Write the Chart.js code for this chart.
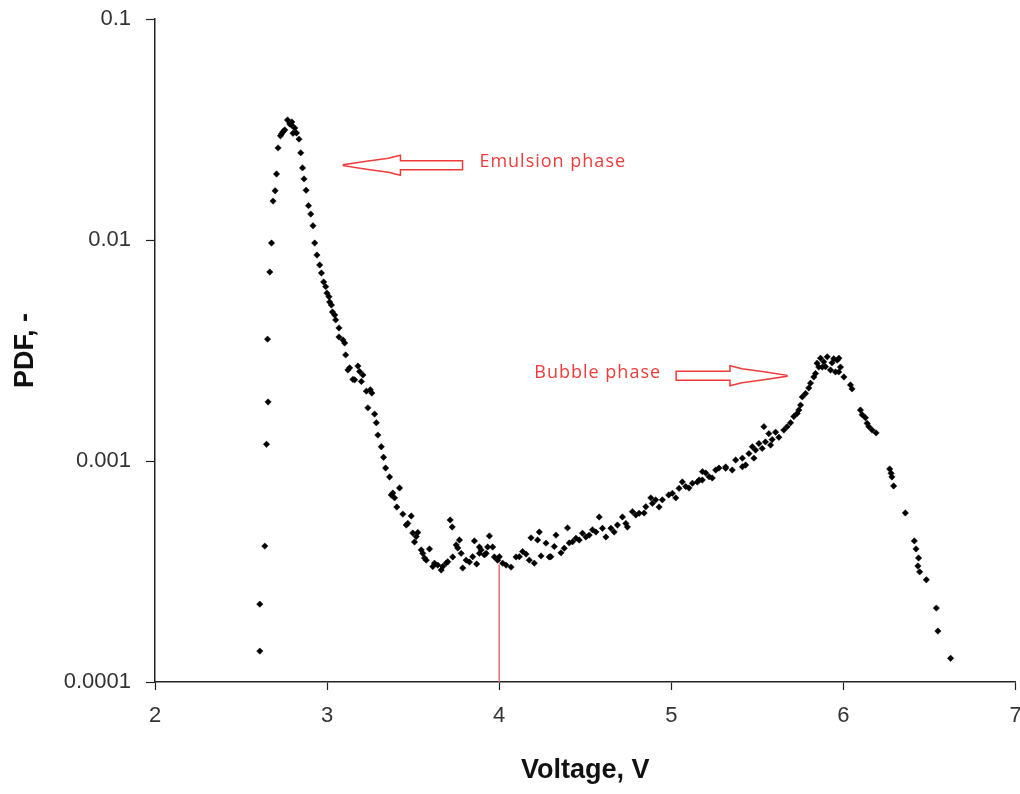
<!DOCTYPE html>
<html>
<head>
<meta charset="utf-8">
<script src="https://cdn.jsdelivr.net/npm/chart.js"></script>
<style>
  body { margin: 0; background: #fff; }
  canvas { display: block; }
</style>
</head>
<body>
<canvas id="myChart" width="1020" height="794"></canvas>
<script>
const voltage = [
  2.609, 2.609, 2.638, 2.648, 2.657, 2.654, 2.667, 2.677, 2.686, 2.698,
  2.706, 2.715, 2.735, 2.754, 2.770, 2.783, 2.795, 2.812, 2.822, 2.837,
  2.847, 2.857, 2.866, 2.878, 2.892, 2.905, 2.918, 2.928, 2.941, 2.957,
  2.967, 2.980, 2.999, 3.015, 3.031, 3.050, 3.069, 3.069, 3.102, 3.108,
  3.131, 3.160, 3.179, 3.208, 3.228, 3.237, 3.260, 3.276, 3.286, 3.295,
  3.315, 3.328, 3.340, 3.363, 3.382, 3.392, 3.405, 3.421, 3.440, 3.460,
  3.489, 3.498, 3.508, 3.527, 3.547, 3.566, 3.595, 3.624, 3.663, 3.692,
  3.715, 3.727, 3.730, 3.759, 3.769, 3.788, 3.827, 3.856, 3.869, 3.895,
  3.914, 3.933, 3.943, 3.962, 3.972, 3.991, 4.020, 4.069, 4.098, 4.156,
  4.185, 4.204, 4.233, 4.243, 4.291, 4.330, 4.359, 4.397, 4.407, 4.465,
  4.504, 4.562, 4.581, 4.620, 4.668, 4.716, 4.745, 4.794, 4.842, 4.881,
  4.929, 4.985, 5.026, 5.064, 5.103, 5.151, 5.180, 5.200, 5.238, 5.258,
  5.277, 5.316, 5.354, 5.374, 5.432, 5.471, 5.480, 5.528, 5.538, 5.577,
  5.586, 5.606, 5.625, 5.693, 5.741, 5.761, 5.799, 5.828, 5.857, 5.867,
  5.877, 5.906, 5.934, 5.954, 5.964, 5.974, 5.983, 6.003, 6.041, 6.050,
  6.099, 6.128, 6.148, 6.167, 6.190, 6.269, 6.282, 6.292, 6.360, 6.412,
  6.422, 6.437, 6.433, 6.443, 6.482, 6.540, 6.549, 6.623,
  // second pass of readings, denser part of the cloud
  2.793, 2.802, 2.744, 2.729, 2.992, 3.011, 3.025, 3.044, 3.092, 3.121,
  3.150, 3.189, 3.199, 3.251, 3.373, 3.469, 3.518, 3.556, 3.576, 3.614,
  3.643, 3.672, 3.701, 3.750, 3.779, 3.808, 3.846, 3.885, 3.924, 3.885,
  4.001, 4.040, 4.117, 4.136, 4.175, 4.223, 4.272, 4.300, 4.320, 4.378,
  4.426, 4.446, 4.484, 4.523, 4.542, 4.600, 4.649, 4.687, 4.736, 4.774,
  4.813, 4.852, 4.890, 4.909, 4.948, 5.006, 5.045, 5.084, 5.123, 5.162,
  5.181, 5.220, 5.316, 5.413, 5.451, 5.490, 5.509, 5.567, 5.413, 5.547,
  5.654, 5.673, 5.712, 5.731, 5.751, 5.780, 5.809, 5.838, 5.847, 5.886,
  5.896, 5.925, 5.944, 5.973, 6.109, 6.138, 6.277
];
const pdf = [
  0.000138, 0.000225, 0.000412, 0.00119, 0.00185, 0.00356, 0.00716, 0.00969, 0.0150, 0.0167,
  0.0199, 0.0261, 0.0302, 0.0315, 0.0349, 0.0335, 0.0342, 0.0321, 0.0305, 0.0286,
  0.0248, 0.0212, 0.0189, 0.0168, 0.0143, 0.0131, 0.0116, 0.00969, 0.00855, 0.00771,
  0.00709, 0.00646, 0.00575, 0.00524, 0.00472, 0.00435, 0.00400, 0.00364, 0.00342, 0.00302,
  0.00264, 0.00233, 0.00269, 0.00245, 0.00207, 0.00174, 0.00203, 0.00163, 0.00149, 0.00131,
  0.00116, 0.00104, 0.000929, 0.000847, 0.000716, 0.000681, 0.000619, 0.000755, 0.000575, 0.000513,
  0.000564, 0.000472, 0.000430, 0.000475, 0.000396, 0.000364, 0.000400, 0.000345, 0.000321, 0.000345,
  0.000541, 0.000503, 0.000368, 0.000404, 0.000439, 0.000328, 0.000349, 0.000435, 0.000342, 0.000396,
  0.000376, 0.000408, 0.000458, 0.000408, 0.000368, 0.000356, 0.000345, 0.000331, 0.000368, 0.000379,
  0.000449, 0.000345, 0.000477, 0.000372, 0.000368, 0.000462, 0.000384, 0.000498, 0.000426, 0.000439,
  0.000453, 0.000477, 0.000558, 0.000453, 0.000477, 0.000558, 0.000503, 0.000570, 0.000582, 0.000681,
  0.000619, 0.000702, 0.000681, 0.000804, 0.000755, 0.000804, 0.000820, 0.000883, 0.000838, 0.000910,
  0.000929, 0.000940, 0.000910, 0.00101, 0.000959, 0.00116, 0.00103, 0.00114, 0.00143, 0.00118,
  0.00125, 0.00135, 0.00128, 0.00149, 0.00170, 0.00195, 0.00214, 0.00240, 0.00266, 0.00292,
  0.00266, 0.00296, 0.00278, 0.00253, 0.00286, 0.00292, 0.00266, 0.00240, 0.00221, 0.00212,
  0.00170, 0.00157, 0.00143, 0.00138, 0.00134, 0.000920, 0.000847, 0.000771, 0.000582, 0.000435,
  0.000400, 0.000364, 0.000335, 0.000315, 0.000290, 0.000216, 0.000170, 0.000128,
  // second pass
  0.0331, 0.0304, 0.0309, 0.0296, 0.00615, 0.00554, 0.00508, 0.00458, 0.00353, 0.00258,
  0.00234, 0.00254, 0.00229, 0.00210, 0.000702, 0.000522, 0.000455, 0.000382, 0.000356, 0.000333,
  0.000338, 0.000333, 0.000350, 0.000417, 0.000382, 0.000356, 0.000369, 0.000408, 0.000382, 0.000382,
  0.000369, 0.000338, 0.000369, 0.000389, 0.000356, 0.000439, 0.000425, 0.000369, 0.000410, 0.000403,
  0.000431, 0.000447, 0.000471, 0.000462, 0.000488, 0.000496, 0.000496, 0.000513, 0.000522, 0.000590,
  0.000580, 0.000621, 0.000643, 0.000667, 0.000667, 0.000714, 0.000752, 0.000766, 0.000793, 0.000820,
  0.000895, 0.000849, 0.000927, 0.00103, 0.00108, 0.00112, 0.00120, 0.00133, 0.000942, 0.00122,
  0.00138, 0.00143, 0.00159, 0.00164, 0.00179, 0.00202, 0.00225, 0.00249, 0.00277, 0.00281,
  0.00267, 0.00258, 0.00290, 0.00253, 0.00162, 0.00148, 0.000880
];

// axis ticks
const xTicks = [2, 3, 4, 5, 6, 7];
const yTicks = [0.0001, 0.001, 0.01, 0.1];
const yTickLabels = ['0.0001', '0.001', '0.01', '0.1'];

// red marker line at the split voltage
const splitX = [4, 4];
const splitY = [0.0001, 0.00034];

// red notes with outlined arrows
const noteText = ['Emulsion phase', 'Bubble phase'];
const noteX = [3.885, 4.204];
const noteY = [0.0225, 0.0025];
const arrowTailX = [3.787, 5.028];
const arrowTipX = [3.095, 5.672];
const arrowY = [0.0218, 0.00243];

const points = voltage.map((v, i) => ({ x: v, y: pdf[i] }));
const splitLine = splitX.map((v, i) => ({ x: v, y: splitY[i] }));

const RED = '#ee3b3b';

// draws the hollow arrows and the note text
const notesPlugin = {
  id: 'notes',
  afterDatasetsDraw(chart) {
    const ctx = chart.ctx;
    const xs = chart.scales.x;
    const ys = chart.scales.y;
    ctx.save();
    for (let i = 0; i < noteText.length; i++) {
      const tail = xs.getPixelForValue(arrowTailX[i]);
      const tip = xs.getPixelForValue(arrowTipX[i]);
      const cy = ys.getPixelForValue(arrowY[i]);
      const dir = tip < tail ? -1 : 1;
      const base = tip - dir * 57;
      // outline: shaft then stepped head
      const pts = [
        [tail, cy - 4.5], [base, cy - 4.5], [base, cy - 10],
        [base + dir * 12, cy - 7], [base + dir * 34, cy - 4], [tip, cy - 0.5],
        [tip, cy + 0.5], [base + dir * 34, cy + 4], [base + dir * 12, cy + 7],
        [base, cy + 10], [base, cy + 4.5], [tail, cy + 4.5]
      ];
      ctx.beginPath();
      ctx.moveTo(pts[0][0], pts[0][1]);
      for (let p of pts.slice(1)) ctx.lineTo(p[0], p[1]);
      ctx.closePath();
      ctx.strokeStyle = RED;
      ctx.lineWidth = 1.5;
      ctx.stroke();

      ctx.fillStyle = RED;
      ctx.font = '18px "Open Sans"';
      ctx.letterSpacing = '1px';
      ctx.textAlign = 'left';
      ctx.textBaseline = 'middle';
      ctx.fillText(noteText[i], xs.getPixelForValue(noteX[i]), ys.getPixelForValue(noteY[i]));
    }
    ctx.restore();
  }
};

const tickFont = { family: '"Liberation Sans", Arial, sans-serif', size: 22 };
const titleFont = { family: '"Liberation Sans", Arial, sans-serif', size: 27, weight: 'bold' };

const chart = new Chart(document.getElementById('myChart').getContext('2d'), {
  type: 'scatter',
  data: {
    datasets: [
      {
        label: 'PDF',
        data: points,
        pointStyle: 'rectRot',
        pointRadius: 3.2,
        backgroundColor: '#000',
        borderColor: '#000',
        borderWidth: 0.5
      },
      {
        label: 'split',
        data: splitLine,
        type: 'line',
        showLine: true,
        pointRadius: 0,
        borderColor: '#f06a6a',
        borderWidth: 1.5
      }
    ]
  },
  options: {
    responsive: false,
    animation: false,
    layout: { padding: { top: 19, right: 3, left: 0, bottom: 0 } },
    plugins: { legend: { display: false }, tooltip: { enabled: false } },
    scales: {
      x: {
        type: 'linear',
        min: 2,
        max: 7,
        afterBuildTicks: s => { s.ticks = xTicks.map(v => ({ value: v })); },
        afterFit: s => { s.height = 112; s.paddingRight = 3; s.paddingLeft = 0; },
        border: { display: true, color: '#222', width: 1.5 },
        grid: { drawOnChartArea: false, drawTicks: true, tickLength: 8, color: '#222', tickWidth: 1.2 },
        ticks: { color: '#333', font: tickFont, padding: 13, maxRotation: 0 },
        title: { display: true, text: 'Voltage, V', color: '#111', font: titleFont, padding: { top: 0, bottom: 7 } }
      },
      y: {
        type: 'logarithmic',
        min: 0.0001,
        max: 0.1,
        afterBuildTicks: s => { s.ticks = yTicks.map(v => ({ value: v })); },
        afterFit: s => { s.width = 155; s.paddingTop = 0; s.paddingBottom = 0; },
        border: { display: true, color: '#222', width: 1.5 },
        grid: { drawOnChartArea: false, drawTicks: true, tickLength: 9, color: '#222', tickWidth: 1.2 },
        ticks: {
          color: '#333',
          font: tickFont,
          padding: 15,
          callback: v => yTickLabels[yTicks.indexOf(v)] ?? ''
        },
        title: { display: true, text: 'PDF, -', color: '#111', font: titleFont, padding: { top: 9, bottom: 0 } }
      }
    }
  },
  plugins: [notesPlugin]
});
</script>
</body>
</html>
